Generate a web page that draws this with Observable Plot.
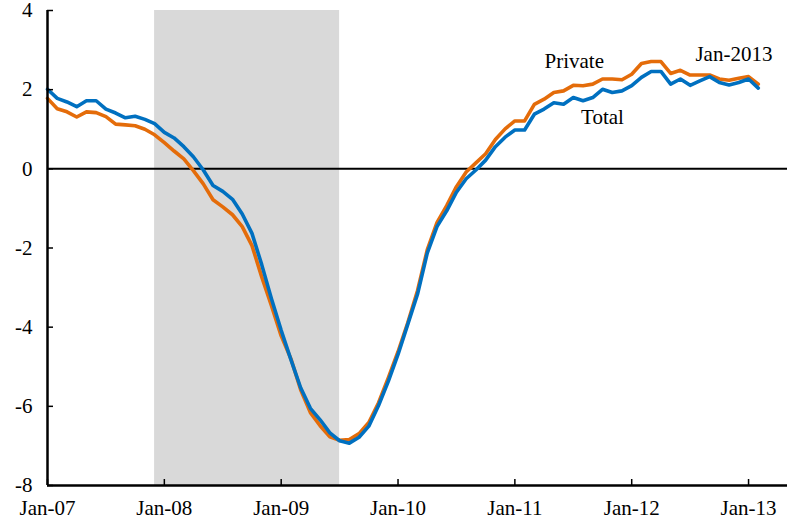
<!DOCTYPE html>
<html>
<head>
<meta charset="utf-8">
<script src="https://cdn.jsdelivr.net/npm/d3@7"></script>
<script src="https://cdn.jsdelivr.net/npm/@observablehq/plot@0.6"></script>
<style>
  html, body { margin: 0; padding: 0; background: #fff; }
  #chart svg { display: block; overflow: visible; }
</style>
</head>
<body>
<div id="chart"></div>
<script>
// Month index 0 = Jan-2007, 73 = last observation
const totalValues = [
  2.01, 1.78, 1.69, 1.57, 1.72, 1.72, 1.51, 1.41, 1.29, 1.33, 1.25, 1.14,
  0.92, 0.78, 0.56, 0.30, -0.03, -0.42, -0.57, -0.77, -1.14, -1.63, -2.42, -3.28,
  -4.08, -4.82, -5.53, -6.05, -6.34, -6.67, -6.87, -6.93, -6.78, -6.50, -5.98, -5.37,
  -4.69, -3.93, -3.17, -2.13, -1.46, -1.06, -0.59, -0.25, -0.03, 0.22, 0.56, 0.80,
  0.98, 0.98, 1.38, 1.51, 1.67, 1.63, 1.80, 1.72, 1.80, 2.01, 1.93, 1.97,
  2.10, 2.31, 2.46, 2.46, 2.14, 2.27, 2.11, 2.22, 2.33, 2.18, 2.12, 2.18,
  2.27, 2.04
];
const privateValues = [
  1.78, 1.52, 1.44, 1.31, 1.44, 1.42, 1.32, 1.13, 1.11, 1.09, 1.00, 0.86,
  0.66, 0.45, 0.25, -0.05, -0.38, -0.78, -0.96, -1.16, -1.46, -1.94, -2.73, -3.46,
  -4.22, -4.80, -5.58, -6.16, -6.49, -6.77, -6.86, -6.84, -6.69, -6.41, -5.91, -5.28,
  -4.62, -3.89, -3.08, -2.05, -1.36, -0.93, -0.45, -0.08, 0.15, 0.38, 0.74, 1.01,
  1.21, 1.21, 1.63, 1.76, 1.93, 1.97, 2.11, 2.10, 2.14, 2.27, 2.27, 2.25,
  2.39, 2.66, 2.71, 2.71, 2.41, 2.49, 2.37, 2.37, 2.37, 2.27, 2.24, 2.29,
  2.33, 2.14
];
const xTickValues = [0, 12, 24, 36, 48, 60, 72];
const xTickLabels = ["Jan-07", "Jan-08", "Jan-09", "Jan-10", "Jan-11", "Jan-12", "Jan-13"];
const yTickValues = [-8, -6, -4, -2, 0, 2, 4];
const recession = [{start: 11, end: 30}]; // Dec-2007 through Jun-2009
const annotations = [
  {label: "Private", m: 54.1, v: 2.73},
  {label: "Total", m: 57.0, v: 1.31},
  {label: "Jan-2013", m: 70.5, v: 2.90}
];

const totalData = totalValues.map((v, i) => ({m: i, v}));
const privateData = privateValues.map((v, i) => ({m: i, v}));

const font = "'Liberation Serif', 'Times New Roman', serif";

const chart = Plot.plot({
  width: 787,
  height: 522,
  marginTop: 10,
  marginBottom: 37,
  marginLeft: 47,
  marginRight: 0,
  style: {fontFamily: font, fontSize: "21px", background: "#fff", color: "#000", overflow: "visible"},
  x: {domain: [0, 76]},
  y: {domain: [-8, 4]},
  marks: [
    Plot.rect(recession, {x1: "start", x2: "end", fill: "#d9d9d9"}),
    Plot.ruleY([0], {stroke: "#000", strokeWidth: 2}),
    Plot.lineY(privateData, {x: "m", y: "v", stroke: "#e46c0a", strokeWidth: 3.6}),
    Plot.lineY(totalData, {x: "m", y: "v", stroke: "#0070c0", strokeWidth: 3.6}),
    Plot.axisY({ticks: yTickValues, tickSize: -6, tickPadding: 21, tickFormat: d => String(d),
      label: null, fontSize: 21, stroke: "#000", strokeWidth: 1.5}),
    Plot.axisX({ticks: xTickValues, tickSize: -6, tickPadding: 21,
      tickFormat: d => xTickLabels[xTickValues.indexOf(d)], label: null, fontSize: 21, strokeWidth: 1.5}),
    Plot.ruleX([0], {stroke: "#000", strokeWidth: 2.5}),
    Plot.ruleY([-8], {stroke: "#000", strokeWidth: 2.5}),
    Plot.text(annotations, {x: "m", y: "v", text: "label", fontSize: 21, fill: "#000"})
  ]
});
document.getElementById("chart").appendChild(chart);
</script>
</body>
</html>
